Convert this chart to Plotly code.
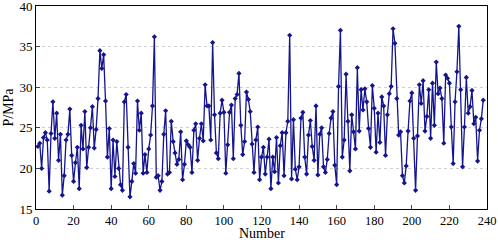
import plotly.graph_objects as go

numbers = list(range(1, 239))
pressure = [
    22.7, 23.1, 20.0, 23.8, 24.4, 23.5, 17.2, 24.3, 28.2, 23.7,
    26.8, 21.0, 24.2, 16.7, 19.1, 23.5, 24.2, 27.3, 21.6, 18.4,
    20.7, 22.6, 17.5, 25.3, 22.4, 27.0, 20.1, 22.6, 25.0, 27.6,
    22.5, 24.8, 28.6, 34.5, 32.3, 34.0, 28.3, 21.4, 24.9, 17.5,
    23.5, 19.0, 23.3, 20.0, 18.0, 17.3, 28.2, 29.1, 22.6, 16.5,
    18.4, 20.6, 19.4, 28.3, 24.7, 26.8, 19.4, 21.7, 19.5, 22.4,
    24.1, 27.7, 36.2, 18.9, 19.1, 17.3, 18.4, 24.2, 27.1, 19.3,
    19.5, 25.8, 23.3, 21.9, 20.5, 21.1, 24.5, 18.6, 20.5, 23.4,
    22.9, 22.6, 19.5, 24.7, 25.5, 21.0, 23.7, 25.5, 23.4, 30.3,
    27.7, 27.7, 23.5, 35.5, 26.6, 21.9, 21.2, 26.8, 28.4, 26.9,
    19.4, 22.9, 26.9, 27.8, 21.2, 28.6, 29.1, 31.7, 25.3, 21.7,
    23.3, 29.4, 28.5, 27.0, 23.0, 19.5, 23.5, 25.1, 18.6, 21.4,
    22.6, 19.3, 21.4, 23.6, 17.5, 21.4, 19.6, 23.8, 18.2, 22.8,
    24.4, 19.1, 24.4, 25.8, 36.4, 18.7, 26.0, 19.9, 18.6, 20.2,
    26.2, 26.9, 21.4, 19.3, 24.1, 25.9, 22.7, 21.0, 27.7, 19.2,
    24.2, 25.0, 20.2, 19.5, 21.1, 24.3, 26.2, 27.0, 20.4, 18.0,
    30.1, 37.0, 21.4, 23.5, 31.6, 25.8, 19.7, 26.6, 24.5, 22.4,
    32.4, 24.6, 29.7, 27.2, 29.8, 28.2, 24.9, 22.6, 30.2, 27.4,
    22.0, 26.8, 23.2, 28.8, 27.7, 21.6, 26.6, 29.2, 30.1, 37.2,
    35.4, 28.6, 24.1, 24.5, 19.1, 18.2, 20.3, 24.6, 28.3, 29.3,
    23.7, 17.3, 24.0, 30.3, 28.0, 30.8, 24.6, 26.4, 29.7, 23.7,
    30.5, 25.3, 33.1, 29.2, 29.9, 28.6, 23.1, 31.5, 31.1, 30.5,
    25.1, 20.6, 28.2, 31.9, 37.5, 29.7, 20.2, 25.1, 31.2, 26.8,
    27.6, 29.6, 25.5, 26.3, 20.9, 24.7, 26.1, 28.4,
]
x_ticks = [0, 20, 40, 60, 80, 100, 120, 140, 160, 180, 200, 220, 240]
y_ticks = [15, 20, 25, 30, 35, 40]

color = "#14148f"
font = "Liberation Serif"
mb, mt = 33, 6
plot_h = 242 - mb - mt

fig = go.Figure()
fig.add_trace(go.Scatter(
    x=numbers[:len(pressure)], y=pressure, mode="lines+markers",
    line=dict(color=color, width=1.3),
    marker=dict(symbol="diamond", size=4, color=color),
    showlegend=False,
))
fig.add_annotation(
    text="Number", xref="paper", yref="paper", x=0.5, y=-mb / plot_h,
    xanchor="center", yanchor="bottom", showarrow=False,
    font=dict(family=font, size=14, color="black"), borderpad=0,
)
fig.update_layout(
    width=498, height=242,
    margin=dict(l=36, r=11, t=mt, b=mb, autoexpand=False),
    paper_bgcolor="white", plot_bgcolor="white",
    font=dict(family=font, size=13, color="black"),
    xaxis=dict(
        range=[0, 240], tickvals=x_ticks, ticks="inside", ticklen=4,
        showgrid=False, zeroline=False, showline=True, linecolor="black",
        linewidth=1, mirror=True, automargin=False,
        ticklabeloverflow="allow",
        tickfont=dict(family=font, size=12.5),
    ),
    yaxis=dict(
        range=[15, 40], tickvals=y_ticks, ticks="inside", ticklen=4,
        showgrid=True, gridcolor="#cfcfcf", griddash="dot", gridwidth=1,
        zeroline=False, showline=True, linecolor="black", linewidth=1,
        mirror=True, automargin=False, ticklabeloverflow="allow",
        title=dict(text="P/MPa", font=dict(family=font, size=14), standoff=2),
        tickfont=dict(family=font, size=13),
    ),
)
fig.write_html("out.html", config={"displayModeBar": False})

with open("out.html", "r", encoding="utf-8") as f:
    html = f.read()
html = html.replace("<head>", "<head><style>html,body{margin:0;padding:0;overflow:hidden;}</style>", 1)
with open("out.html", "w", encoding="utf-8") as f:
    f.write(html)
